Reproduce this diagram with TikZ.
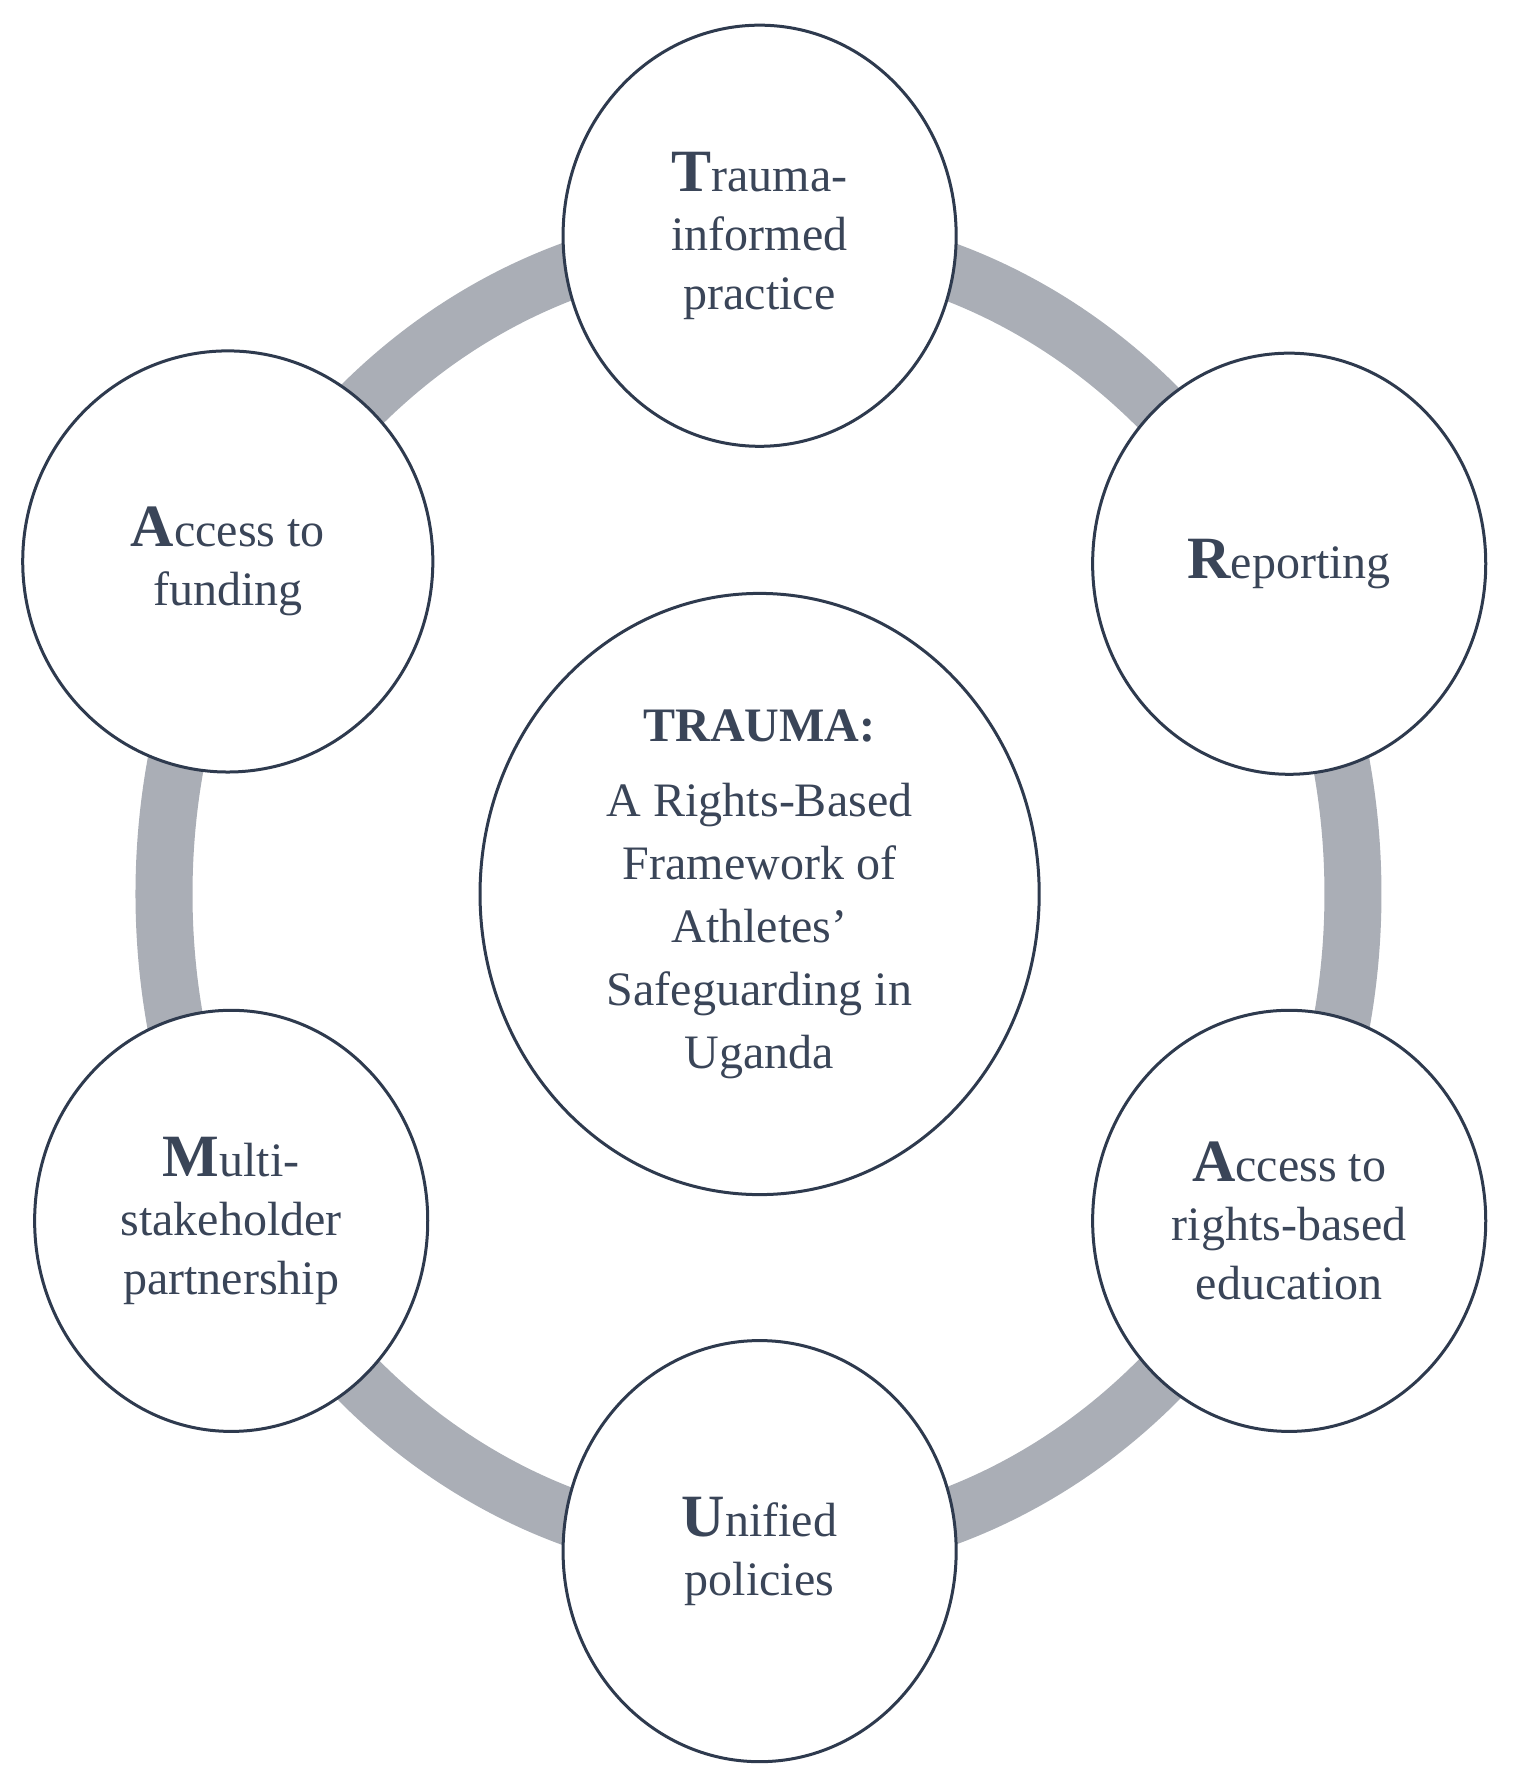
\documentclass[tikz,border=0pt]{standalone}
\usepackage{fontspec}
\setmainfont{Liberation Serif}
\usetikzlibrary{shapes.geometric}
\definecolor{ring}{HTML}{AAAEB6}
\definecolor{edge}{HTML}{2E3A4E}
\definecolor{txt}{HTML}{3A4558}
\newcommand{\B}[1]{{\fontsize{60}{59}\selectfont\bfseries #1}}
\begin{document}
\begin{tikzpicture}[x=1.1385pt,y=-1.1385pt,
  sat/.style={draw=edge,line width=3pt,fill=white,ellipse,minimum width=393pt,minimum height=421pt,
   text=txt,align=center,font=\fontsize{48}{59}\selectfont},
  every node/.append style={inner sep=0pt}]
\useasboundingbox (0,0) rectangle (1350,1570);
\draw[ring,line width=57pt] (666,785) ellipse [x radius=522, y radius=577];
\node[sat,minimum width=559pt,minimum height=601pt,font=\fontsize{48}{63}\selectfont] (c) at (667,785) {\textbf{TRAUMA:}\\[12pt]A Rights-Based\\Framework of\\Athletes{\char39}\\Safeguarding in\\Uganda};
\node[sat] (t) at (667,207) {\B{T}rauma-\\informed\\practice};
\node[sat] (r) at (1132,495) {\B{R}eporting};
\node[sat] (a2) at (1132,1072) {\B{A}ccess to\\rights-based\\education};
\node[sat] (u) at (667,1362) {\B{U}nified\\policies};
\node[sat] (m) at (203,1072) {\B{M}ulti-\\stakeholder\\partnership};
\node[sat,minimum width=410pt] (a1) at (200,493) {\B{A}ccess to\\funding};
\end{tikzpicture}
\end{document}
